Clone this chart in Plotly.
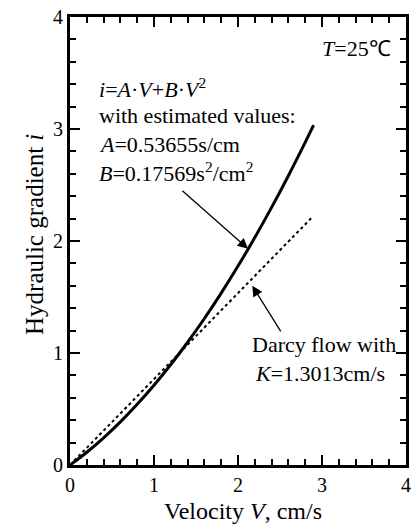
import plotly.graph_objects as go

# Data
velocity_fit = [0, 0.2, 0.4, 0.6, 0.8, 1.0, 1.2, 1.4, 1.6, 1.8, 2.0, 2.2, 2.4, 2.6, 2.8, 2.9]
gradient_fit = [0, 0.114, 0.243, 0.385, 0.542, 0.712, 0.897, 1.096, 1.308, 1.535, 1.776, 2.031, 2.300, 2.583, 2.880, 3.034]
velocity_darcy = [0, 2.88]
gradient_darcy = [0, 2.21]

x_ticks = [0, 1, 2, 3, 4]
y_ticks = [0, 1, 2, 3, 4]

FONT = "Liberation Serif"

fig = go.Figure()
fig.add_trace(go.Scatter(x=velocity_darcy, y=gradient_darcy, mode="lines",
                         line=dict(color="black", width=2, dash="dot"), showlegend=False))
fig.add_trace(go.Scatter(x=velocity_fit, y=gradient_fit, mode="lines",
                         line=dict(color="black", width=3, shape="spline"), showlegend=False))

axis_common = dict(
    showgrid=False, zeroline=False,
    showline=True, linecolor="black", linewidth=3, mirror="allticks",
    ticks="inside", ticklen=10, tickwidth=2, tickcolor="black",
    tickfont=dict(family=FONT, size=20, color="black"),
    minor=dict(dtick=0.2, ticks="inside", ticklen=6, tickwidth=1.5, tickcolor="black"),
)
fig.update_xaxes(range=[0, 4], tickvals=x_ticks, **axis_common)
fig.update_yaxes(range=[0, 4], tickvals=y_ticks, **axis_common)

# axis titles
fig.add_annotation(xref="paper", yref="paper", x=0.515, y=-0.103, xanchor="center", yanchor="middle",
                   text="Velocity <i>V</i>, cm/s", showarrow=False,
                   font=dict(family=FONT, size=24, color="black"))
fig.add_annotation(xref="paper", yref="paper", x=-0.105, y=0.515, xanchor="center", yanchor="middle",
                   text="Hydraulic gradient <i>i</i>", textangle=-90, showarrow=False,
                   font=dict(family=FONT, size=25, color="black"))

tf = dict(family=FONT, size=22, color="black")
anns = [
    dict(x=3.84, y=3.72, text="<i>T</i>=25℃", xanchor="right"),
    dict(x=0.32, y=3.37, text="<i>i</i>=<i>A</i>·<i>V</i>+<i>B</i>·<i>V</i><sup>2</sup>", xanchor="left"),
    dict(x=0.32, y=3.12, text="with estimated values:", xanchor="left"),
    dict(x=0.32, y=2.86, text="<i>A</i>=0.53655s/cm", xanchor="left"),
    dict(x=0.32, y=2.62, text="<i>B</i>=0.17569s<sup>2</sup>/cm<sup>2</sup>", xanchor="left"),
    dict(x=3.02, y=1.08, text="Darcy flow with", xanchor="center"),
    dict(x=2.98, y=0.82, text="<i>K</i>=1.3013cm/s", xanchor="center"),
]
for a in anns:
    fig.add_annotation(xref="x", yref="y", showarrow=False, yanchor="middle", font=tf, **a)

# arrows
fig.add_annotation(x=2.12, y=1.93, ax=1.32, ay=2.46, xref="x", yref="y", axref="x", ayref="y",
                   text="", showarrow=True, arrowhead=2, arrowsize=1.6, arrowwidth=1.3, arrowcolor="black")
fig.add_annotation(x=2.17, y=1.6, ax=2.52, ay=1.18, xref="x", yref="y", axref="x", ayref="y",
                   text="", showarrow=True, arrowhead=2, arrowsize=1.6, arrowwidth=1.3, arrowcolor="black")

fig.update_layout(
    width=417, height=525,
    margin=dict(l=70, r=6, t=14, b=60),
    plot_bgcolor="white", paper_bgcolor="white",
    font=dict(family=FONT, color="black"),
)
fig.write_html("out.html")
